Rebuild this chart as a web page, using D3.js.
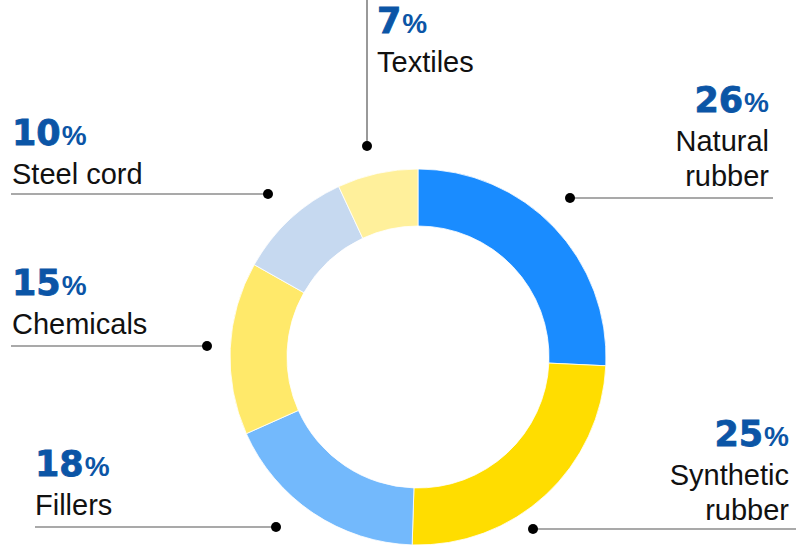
<!DOCTYPE html>
<html>
<head>
<meta charset="utf-8">
<script src="https://cdn.jsdelivr.net/npm/d3@7"></script>
<style>
  html, body { margin: 0; padding: 0; background: #fff; }
  svg { display: block; }
</style>
</head>
<body>
<svg id="chart" width="796" height="545"></svg>
<script>
// ---- data ----
const categories = ["Natural rubber", "Synthetic rubber", "Fillers", "Chemicals", "Steel cord", "Textiles"];
const shares = [26, 25, 18, 15, 10, 7];
const labelLines = [["Natural", "rubber"], ["Synthetic", "rubber"], ["Fillers"], ["Chemicals"], ["Steel cord"], ["Textiles"]];
const colors = ["#1a8cff", "#ffdd00", "#73b9fc", "#ffe96a", "#c6d9f0", "#fff09b"];

// ---- layout (annotation placement) ----
const labelLayout = [
  { x: 769, y: 112, anchor: "end",   dot: [570, 198], line: [[570, 198], [773, 198]] },
  { x: 789, y: 446, anchor: "end",   dot: [533, 529], line: [[533, 529], [796, 529]] },
  { x: 35,  y: 476, anchor: "start", dot: [276, 527], line: [[35, 527], [276, 527]] },
  { x: 12,  y: 295, anchor: "start", dot: [207, 346], line: [[11, 346], [207, 346]] },
  { x: 12,  y: 145, anchor: "start", dot: [268, 194], line: [[11, 194], [268, 194]] },
  { x: 377, y: 33,  anchor: "start", dot: [367, 146], line: [[367, 0], [367, 146]] }
];

const svg = d3.select("#chart");
const cx = 418, cy = 357, outerR = 188, innerR = 131;

const pie = d3.pie().sort(null).value(d => d);
const arc = d3.arc().innerRadius(innerR).outerRadius(outerR);

const g = svg.append("g").attr("transform", `translate(${cx},${cy})`);
g.selectAll("path")
  .data(pie(shares))
  .join("path")
  .attr("d", arc)
  .attr("fill", (d, i) => colors[i])
  .attr("stroke", "#fff")
  .attr("stroke-width", 0.8);

// connectors and labels
const ann = svg.append("g");
labelLayout.forEach((L, i) => {
  ann.append("line")
    .attr("x1", L.line[0][0]).attr("y1", L.line[0][1])
    .attr("x2", L.line[1][0]).attr("y2", L.line[1][1])
    .attr("stroke", "#555").attr("stroke-width", 1.2);
  ann.append("circle")
    .attr("cx", L.dot[0]).attr("cy", L.dot[1]).attr("r", 5)
    .attr("fill", "#000");

  const pct = ann.append("text")
    .attr("x", L.x).attr("y", L.y)
    .attr("text-anchor", L.anchor)
    .attr("fill", "#0b55a6");
  pct.append("tspan")
    .attr("font-family", "DejaVu Sans")
    .attr("font-weight", "bold")
    .attr("font-size", 35)
    .attr("stroke", "#0b55a6")
    .attr("stroke-width", 0.8)
    .text(shares[i]);
  pct.append("tspan")
    .attr("font-family", "Liberation Sans, Arial")
    .attr("font-weight", "bold")
    .attr("font-size", 28)
    .attr("dx", 1)
    .text("%");

  labelLines[i].forEach((t, j) => {
    ann.append("text")
      .attr("x", L.x).attr("y", L.y + 38.5 + j * 35)
      .attr("text-anchor", L.anchor)
      .attr("font-family", "Liberation Sans, Arial")
      .attr("font-size", 29)
      .attr("fill", "#111")
      .text(t);
  });
});
</script>
</body>
</html>
